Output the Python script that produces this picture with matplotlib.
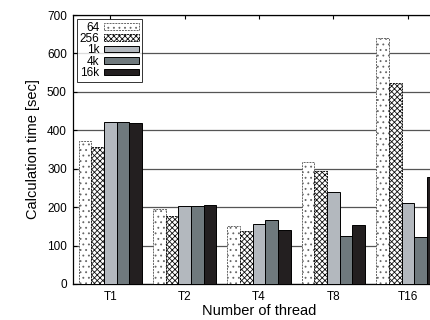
import numpy as np
import matplotlib
matplotlib.use('Agg')
import matplotlib.pyplot as plt

plt.rcParams['font.family'] = ['Liberation Sans', 'DejaVu Sans']
plt.rcParams['hatch.linewidth'] = 0.6

# valores
threads = ['T1', 'T2', 'T4', 'T8', 'T16']
sizes = ['64', '256', '1k', '4k', '16k']
t64 = [371, 196, 152, 318, 641]
t256 = [357, 176, 137, 295, 522]
t1k = [421, 204, 156, 240, 210]
t4k = [421, 204, 166, 125, 123]
t16k = [420, 206, 141, 154, 279]
series = [t64, t256, t1k, t4k, t16k]

# estilos de cada serie
faces = ['white', 'white', '#b3b8be', '#6f797d', '#231f20']
hatches = ['...', 'xxxxxx', None, None, None]
hcolors = ['#666666', '#111111', 'black', 'black', 'black']
lstyles = [(0, (2, 1)), (0, (2, 1)), '-', '-', '-']

fig = plt.figure(figsize=(4.3, 3.2), dpi=100)
ax = fig.add_axes([0.170, 0.1125, 0.865, 0.8406])

x = np.arange(len(threads))
w = 0.17
for i, vals in enumerate(series):
    pos = x + (i - 2) * w
    ax.bar(pos, vals, w, color=faces[i], edgecolor=hcolors[i],
           hatch=hatches[i], linewidth=0.7, linestyle=lstyles[i],
           label=sizes[i], zorder=3)

ax.set_xlim(-0.5, 4.5)
ax.set_ylim(0, 700)
ax.set_yticks(range(0, 701, 100))
ax.set_xticks(x)
ax.set_xticklabels(threads)
ax.tick_params(axis='both', labelsize=8.5, direction='in', top=True,
               length=3, width=0.8)
ax.tick_params(axis='x', pad=5)
ax.tick_params(axis='y', length=3, pad=4.5)
ax.yaxis.grid(True, color='#555555', linewidth=0.9, zorder=0)
ax.set_axisbelow(True)
for s in ax.spines.values():
    s.set_linewidth(0.9)

ax.set_xlabel('Number of thread', fontsize=10.5, labelpad=1)
ax.set_ylabel('Calculation time [sec]', fontsize=10.5, labelpad=5)

leg = ax.legend(loc='upper left', fontsize=8.5, markerfirst=False,
                frameon=True, fancybox=False, edgecolor='black',
                handlelength=3.0, handleheight=0.5, labelspacing=-0.05,
                borderpad=0.2, handletextpad=0.4, borderaxespad=0.35)
leg.get_frame().set_linewidth(0.7)

fig.savefig('out.png', dpi=100)
